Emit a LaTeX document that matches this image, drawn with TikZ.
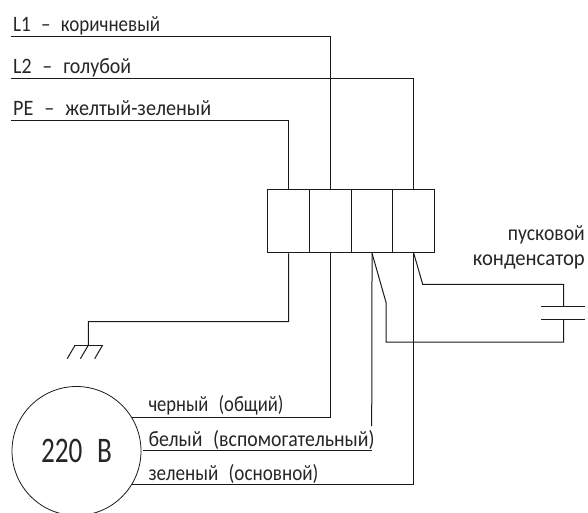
\documentclass[tikz,border=0pt]{standalone}
\usepackage{fontspec}
\usepackage{graphicx}
\setmainfont[WordSpace=2.4]{Carlito}
\newcommand{\fitw}[2]{\resizebox{#1pt}{\height}{#2}}
\tikzset{
  wire/.style={line width=1pt,black!90},
  label/.style={inner sep=0pt,anchor=base west,text=black!85,font=\fontsize{22}{24}\selectfont},
  rlabel/.style={label,anchor=base east},
  terminal/.style={draw,line width=1pt,black!90,minimum width=41.7pt,minimum height=63.6pt,inner sep=0pt,anchor=north west},
  motor/.style={circle,draw,line width=0.8pt,black!90,minimum size=129pt,inner sep=0pt,text=black!85,font=\fontsize{36}{38}\selectfont}
}
\begin{document}
\begin{tikzpicture}[x=1pt,y=-1pt]
\useasboundingbox (0,0) rectangle (588,512);
\clip (0,0) rectangle (588,512);
% terminal block
\node[terminal] (t1) at (267.3,188.7) {};
\node[terminal] (t2) at (309,188.7) {};
\node[terminal] (t3) at (350.7,188.7) {};
\node[terminal] (t4) at (392.4,188.7) {};
% motor
\node[motor] (m) at (76.5,451) {\fitw{71}{220 В}};
% free ends
\coordinate (l1) at (11,36.6);
\coordinate (l2) at (11,78.5);
\coordinate (pe) at (11,120);
\coordinate (gc) at (288.5,321.5);
\coordinate (gt) at (88.4,321.5);
\coordinate (gnd) at (88.4,345);
\coordinate (gl) at (75.2,345);
\coordinate (gr) at (102.7,345);
\coordinate (gla) at (67.2,358.7);
\coordinate (gma) at (80.4,358.7);
\coordinate (gra) at (94.7,358.7);
\coordinate (mc) at (131.7,417.7);
\coordinate (mwb) at (143,450.7);
\coordinate (mg) at (131.7,484);
\coordinate (wbreak) at (371.7,426);
\coordinate (wcorner) at (371.7,450.7);
\coordinate (k1) at (422.7,284.3);
\coordinate (k2) at (386,302.3);
\coordinate (k3) at (386,342);
\coordinate (k4) at (563.7,342);
\coordinate (p1) at (563.7,306.7);
\coordinate (p2) at (563.7,319.7);
\coordinate (p1l) at (541,306.7);
\coordinate (p1r) at (584.7,306.7);
\coordinate (p2l) at (541,319.7);
\coordinate (p2r) at (584.7,319.7);
% supply wires
\draw[wire] (l1) -| (t2.north);
\draw[wire] (l2) -| (t4.north);
\draw[wire] (pe) -| (t1.north);
% earth
\draw[wire] (t1.south) -- (gc) -- (gt) -- (gnd);
\draw[wire] (gl) -- (gr);
\draw[wire] (gl) -- (gla);
\draw[wire] (gnd) -- (gma);
\draw[wire] (gr) -- (gra);
% motor wires
\draw[wire] (t2.south) |- (mc);
\draw[wire] (t3.south) -- (wbreak);
\draw[wire] (wcorner) -- (mwb);
\draw[wire] (t4.south) |- (mg);
% capacitor
\draw[wire] (t4.south) -- (k1) -| (p1);
\draw[wire] (t3.south) -- (k2) -- (k3) -- (k4) -- (p2);
\draw[wire] (p1l) -- (p1r);
\draw[wire] (p2l) -- (p2r);
% labels
\node[label] (a) at (13,31) {\fitw{147}{L1 – коричневый}};
\node[label] (b) at (13,73) {\fitw{118}{L2 – голубой}};
\node[label] (c) at (13,115.6) {\fitw{198}{PE – желтый-зеленый}};
\node[label] (d) at (148.3,411) {\fitw{135}{черный (общий)}};
\node[label] (e) at (148.3,446.7) {\fitw{226}{белый (вспомогательный)}};
\node[label] (f) at (148.3,480) {\fitw{170}{зеленый (основной)}};
\node[rlabel] (g) at (585,240) {\fitw{77}{пусковой}};
\node[rlabel] (h) at (585,265) {\fitw{112}{конденсатор}};
\end{tikzpicture}
\end{document}
